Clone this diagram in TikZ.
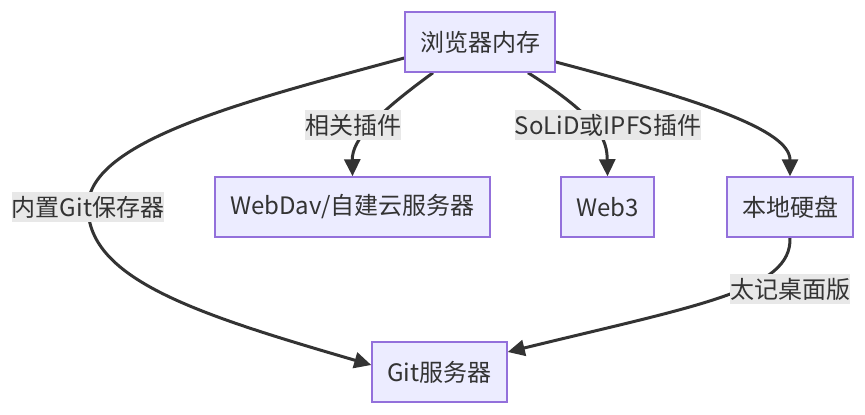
\documentclass[tikz,border=0pt]{standalone}
\usepackage{fontspec}
\newfontfamily\cjk{Noto Sans CJK SC}
\usetikzlibrary{arrows.meta,backgrounds}
\definecolor{boxfill}{HTML}{ECECFF}
\definecolor{boxline}{HTML}{9370DB}
\definecolor{ink}{HTML}{333333}
\definecolor{lblfill}{HTML}{E8E8E8}

\begin{document}
\begin{tikzpicture}[x=1pt, y=-1pt]
    \tikzset{box_style/.style={rectangle, draw=boxline, fill=boxfill, line width=1.5pt, minimum height=60pt, inner xsep=15pt, text=ink, font=\cjk\fontsize{24}{28}\selectfont}}
    \tikzset{label_style/.style={rectangle, fill=lblfill, inner xsep=0pt, inner ysep=0pt, minimum height=30pt, text=ink, font=\cjk\fontsize{24}{28}\selectfont}}
    \tikzset{edge_style/.style={draw=ink, line width=3pt, -{Triangle[length=17pt, width=16pt]}}}

    \useasboundingbox (0,0) rectangle (865,415);

    % boxes
    \node at (480, 42) [box_style, minimum width=150pt] (node_mem) {浏览器内存};
    \node at (352.5, 207) [box_style, minimum width=271pt] (node_webdav) {WebDav/自建云服务器};
    \node at (607.5, 207) [box_style, minimum width=89pt] (node_web3) {Web3};
    \node at (790, 207) [box_style, minimum width=126pt] (node_disk) {本地硬盘};
    \node at (439.5, 372) [box_style, minimum width=135pt] (node_git) {Git服务器};

    % edge labels
    \node at (353, 125) [label_style, minimum width=96pt] (label_plugin) {相关插件};
    \node at (608, 125) [label_style, minimum width=174pt] (label_solid) {SoLiD或IPFS插件};
    \node at (88, 207) [label_style, minimum width=152pt] (label_builtin) {内置Git保存器};
    \node at (790, 289) [label_style, minimum width=120pt] (label_desktop) {太记桌面版};

    \begin{scope}[on background layer]
      % connect: memory -> webdav
      \path[edge_style] ([xshift=-47pt]node_mem.south) .. controls (375,115) and (352,140) .. (node_webdav.north);
      % connect: memory -> web3
      \path[edge_style] ([xshift=48pt]node_mem.south) .. controls (600,118) and (607,140) .. (node_web3.north);
      % connect: memory -> disk
      \path[edge_style] ([yshift=-20pt]node_mem.east) .. controls (700,100) and (790,130) .. (node_disk.north);
      % connect: memory -> git
      \path[edge_style] ([yshift=-16pt]node_mem.west) .. controls (250,100) and (88,140) .. (label_builtin.center)
        .. controls (88,280) and (200,315) .. ([yshift=7pt]node_git.west);
      % connect: disk -> git
      \path[edge_style] (node_disk.south) .. controls (792,290) and (700,305) .. ([yshift=20pt]node_git.east);
    \end{scope}
\end{tikzpicture}
\end{document}
